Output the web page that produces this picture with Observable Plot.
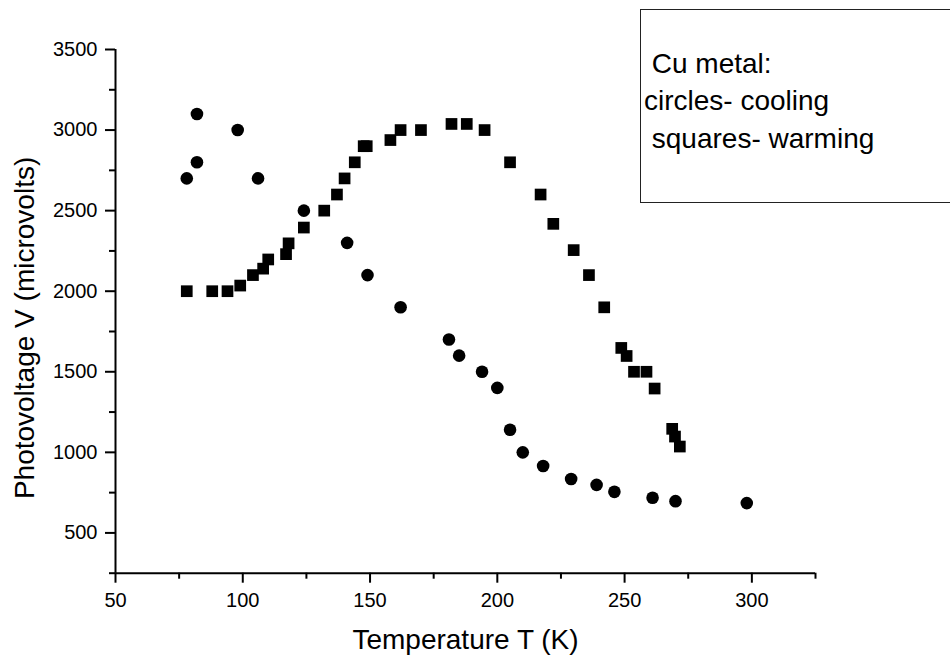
<!DOCTYPE html>
<html>
<head>
<meta charset="utf-8">
<script src="https://cdn.jsdelivr.net/npm/d3@7"></script>
<script src="https://cdn.jsdelivr.net/npm/@observablehq/plot@0.6"></script>
<style>
  html, body { margin: 0; padding: 0; background: white; overflow: hidden; }
  #wrap { position: relative; width: 950px; height: 659px; }
  #wrap svg g[aria-label="x-axis tick label"],
  #wrap svg g[aria-label="y-axis tick label"] { font-size: 20px !important; }
  #wrap svg g[aria-label="x-axis tick label"] text,
  #wrap svg g[aria-label="y-axis tick label"] text { font-size: 20px !important; }
  #legend {
    position: absolute; left: 640px; top: 9px; width: 330px; height: 194px;
    border: 1.5px solid #222; box-sizing: border-box; background: white;
    font-family: "Liberation Sans", Arial, sans-serif; font-size: 28px; color: black;
    white-space: pre;
  }
  #legend div { position: absolute; left: 3px; line-height: 1; }
</style>
</head>
<body>
<div id="wrap"><div id="legend"></div></div>
<script>
// Cooling (circles)
const coolT = [78, 82, 82, 98, 106, 124, 141, 149, 162, 181, 185, 194, 200, 205, 210, 218, 229, 239, 246, 261, 270, 298];
const coolV = [2700, 3100, 2800, 3000, 2700, 2500, 2300, 2100, 1900, 1700, 1600, 1500, 1400, 1140, 1000, 915, 835, 798, 755, 718, 697, 685];
// Warming (squares)
const warmT = [78, 88, 94, 99, 104, 108, 110, 117, 118, 124, 132, 137, 140, 144, 147.5, 148.7, 158, 162, 170, 182, 188, 195, 205, 217, 222, 230, 236, 242, 248.7, 250.8, 253.7, 258.6, 261.8, 268.7, 269.8, 271.7];
const warmV = [2000, 2000, 2000, 2035, 2100, 2140, 2197, 2230, 2297, 2395, 2500, 2600, 2700, 2800, 2900, 2900, 2938, 3000, 3000, 3038, 3038, 3000, 2800, 2600, 2418, 2255, 2100, 1900, 1648, 1598, 1500, 1500, 1396, 1146, 1098, 1036];

const xTicks = [50, 100, 150, 200, 250, 300];
const xMinor = [75, 125, 175, 225, 275, 325];
const yTicks = [500, 1000, 1500, 2000, 2500, 3000, 3500];
const yMinor = [250, 750, 1250, 1750, 2250, 2750, 3250];

const xTitle = "Temperature T (K)";
const yTitle = "Photovoltage V (microvolts)";
const legendLines = [" Cu metal:", "circles- cooling", " squares- warming"];

const cooling = coolT.map((t, i) => ({T: t, V: coolV[i]}));
const warming = warmT.map((t, i) => ({T: t, V: warmV[i]}));

const chart = Plot.plot({
  width: 950,
  height: 659,
  marginLeft: 115,
  marginRight: 135,
  marginTop: 49,
  marginBottom: 86.3,
  x: {domain: [50, 325]},
  y: {domain: [250, 3500]},
  style: {fontFamily: "'Liberation Sans', Arial, sans-serif", fontSize: "20px", color: "black", background: "white", overflow: "visible"},
  marks: [
    Plot.axisX(xTicks, {tickSize: 10, tickPadding: 10, strokeWidth: 2, fontSize: 20, tickFormat: d => String(d), label: null}),
    Plot.axisX(xMinor, {tickSize: 6, strokeWidth: 2, tickFormat: () => "", label: null}),
    Plot.axisY(yTicks, {tickSize: 10, tickPadding: 8, strokeWidth: 2, fontSize: 20, tickFormat: d => String(d), label: null}),
    Plot.axisY(yMinor, {tickSize: 6, strokeWidth: 2, tickFormat: () => "", label: null}),
    Plot.ruleX([50], {strokeWidth: 2}),
    Plot.ruleY([250], {strokeWidth: 2}),
    Plot.dot(cooling, {x: "T", y: "V", r: 6.3, fill: "black", stroke: null}),
    Plot.dot(warming, {x: "T", y: "V", symbol: "square", r: 6.6, fill: "black", stroke: null}),
    Plot.text([xTitle], {text: d => d, frameAnchor: "bottom", dy: 75.3, lineAnchor: "bottom", textAnchor: "middle", fontSize: 28}),
    Plot.text([yTitle], {text: d => d, frameAnchor: "left", rotate: -90, dx: -82, dy: 16.6, lineAnchor: "bottom", textAnchor: "middle", fontSize: 28})
  ]
});

const wrap = document.getElementById("wrap");
wrap.insertBefore(chart, wrap.firstChild);

const legend = document.getElementById("legend");
const baselines = [64, 101, 139];
legendLines.forEach((s, i) => {
  const d = document.createElement("div");
  d.textContent = s;
  d.style.top = (baselines[i] - 24) + "px";
  legend.appendChild(d);
});
</script>
</body>
</html>
